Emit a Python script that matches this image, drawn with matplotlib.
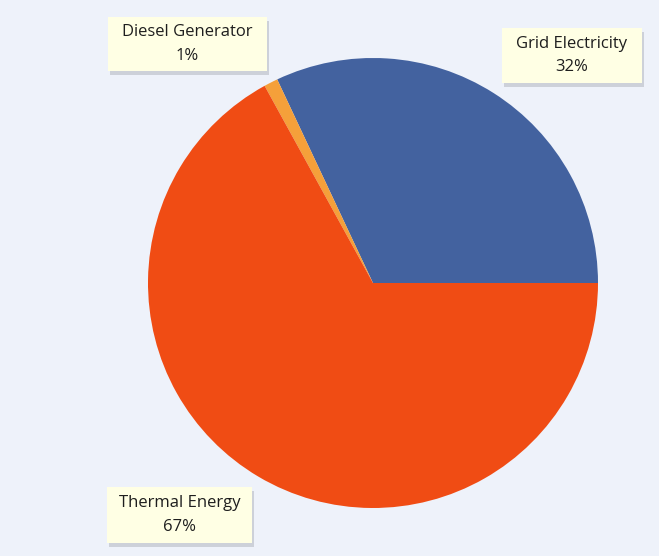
import matplotlib
matplotlib.use("Agg")
import matplotlib.pyplot as plt
from matplotlib.patches import Rectangle

categories = ["Grid Electricity", "Diesel Generator", "Thermal Energy"]
values = [32, 1, 67]
pct_labels = ["32%", "1%", "67%"]
colors = ["#43629F", "#F5A03A", "#F04C14"]

W, H = 659, 556
fig = plt.figure(figsize=(W / 100, H / 100), dpi=100)
fig.patch.set_facecolor("#EEF2FA")

cx, cy, r = 373, 283, 225
ax = fig.add_axes([(cx - r) / W, (H - cy - r) / H, 2 * r / W, 2 * r / H])
ax.set_facecolor("none")
ax.pie(values, colors=colors, startangle=0, counterclock=True, radius=1,
       wedgeprops=dict(linewidth=0))
ax.set_xlim(-1, 1)
ax.set_ylim(-1, 1)
ax.set_axis_off()

# label boxes (left, top, right, bottom) in pixels
label_box = {"Grid Electricity": (502, 28, 642, 83),
             "Diesel Generator": (108, 17, 267, 71),
             "Thermal Energy": (107, 487, 252, 543)}

font = ["Open Sans", "DejaVu Sans"]
for cat, pct in zip(categories, pct_labels):
    x0, y0, x1, y1 = label_box[cat]
    w, h = x1 - x0, y1 - y0
    fig.patches.append(Rectangle(((x0 + 2) / W, 1 - (y1 + 4) / H), w / W, h / H,
                                 transform=fig.transFigure, fc="#BFC3CB",
                                 ec="none", alpha=0.7, zorder=5))
    fig.patches.append(Rectangle((x0 / W, 1 - y1 / H), w / W, h / H,
                                 transform=fig.transFigure, fc="#FFFFE4",
                                 ec="none", zorder=6))
    fig.text((x0 + x1) / 2 / W, 1 - (y0 + y1) / 2 / H, f"{cat}\n{pct}",
             ha="center", va="center", fontsize=12, family=font,
             color="#1E1E1E", linespacing=1.6, zorder=7)

fig.savefig("out.png", dpi=100, facecolor=fig.get_facecolor())
